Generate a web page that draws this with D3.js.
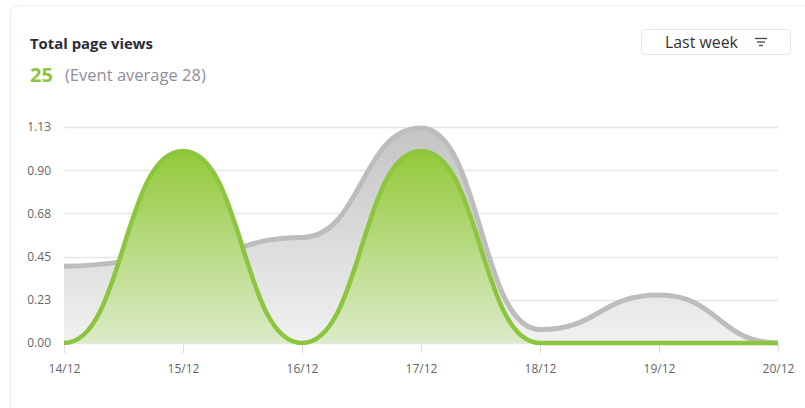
<!DOCTYPE html>
<html>
<head>
<meta charset="utf-8">
<script src="https://cdnjs.cloudflare.com/ajax/libs/d3/7.8.5/d3.min.js"></script>
<style>
  body { margin: 0; background: #fff; }
  svg { display: block; font-family: "Open Sans", "Noto Sans", sans-serif; }
</style>
</head>
<body>
<svg id="chart" width="805" height="408"></svg>
<script>
// data
var days = ['14/12', '15/12', '16/12', '17/12', '18/12', '19/12', '20/12'];
var pageViews = [0, 1, 0, 1, 0, 0, 0];
var eventAverage = [0.4, 0.45, 0.55, 1.12, 0.07, 0.25, 0];
var yTicks = [0, 0.225, 0.45, 0.675, 0.9, 1.125];

var svg = d3.select('#chart');
var defs = svg.append('defs');

var margin = {left: 64, right: 27, top: 127, bottom: 65};
var width = 805 - margin.left - margin.right;
var height = 408 - margin.top - margin.bottom;

// scale a label's font so it spans the wanted width
function fit(sel, size, w) {
	sel.style('font-size', size + 'px');
	var len = sel.node().getComputedTextLength();
	sel.style('font-size', (size * w / len) + 'px');
	return sel;
}

// card
svg.append('rect')
	.attr('x', 10.5).attr('y', 5.5)
	.attr('width', 820).attr('height', 430)
	.attr('rx', 8)
	.style('fill', '#fff')
	.style('stroke', '#e9edf2');

fit(svg.append('text')
	.attr('x', 30).attr('y', 49)
	.style('font-weight', 700)
	.style('fill', '#2b2b38')
	.text('Total page views'), 14.5, 123);

fit(svg.append('text')
	.attr('x', 30).attr('y', 82)
	.style('font-weight', 700)
	.style('fill', '#8dc63f')
	.text('25'), 19, 23);

fit(svg.append('text')
	.attr('x', 65).attr('y', 81)
	.style('fill', '#8e8e9c')
	.text('(Event average 28)'), 14, 141);

// dropdown button
svg.append('rect')
	.attr('x', 641.5).attr('y', 29.5)
	.attr('width', 149).attr('height', 25)
	.attr('rx', 4)
	.style('fill', '#fff')
	.style('stroke', '#e2e7ee');

fit(svg.append('text')
	.attr('x', 665).attr('y', 48)
	.style('fill', '#333')
	.text('Last week'), 14.5, 73);

var icon = svg.append('g').attr('transform', 'translate(755,38)');
[[0, 12], [2, 8], [4, 4]].forEach(function(d, i) {
	icon.append('line')
		.attr('x1', d[0]).attr('x2', d[0] + d[1])
		.attr('y1', i * 3.5 + 0.5).attr('y2', i * 3.5 + 0.5)
		.style('stroke', '#444').style('stroke-width', 1.3);
});

var x = d3.scalePoint().domain(days).range([0, width]);
var y = d3.scaleLinear().domain([0, 1.125]).range([height, 0]);

var g = svg.append('g')
	.attr('transform', 'translate(' + margin.left + ',' + margin.top + ')');

// grid
g.selectAll('.grid')
	.data(yTicks)
	.enter()
	.append('line')
	.attr('x1', 0).attr('x2', width)
	.attr('y1', function(d) { return Math.round(y(d)) + 0.5; })
	.attr('y2', function(d) { return Math.round(y(d)) + 0.5; })
	.style('stroke', '#e6e6e6').style('stroke-width', 1.5);

// gradients
var gg = defs.append('linearGradient').attr('id', 'greyFill')
	.attr('x1', 0).attr('y1', 0).attr('x2', 0).attr('y2', 1);
gg.append('stop').attr('offset', '0%').style('stop-color', '#c4c4c4');
gg.append('stop').attr('offset', '100%').style('stop-color', '#f1f1f1');

var gr = defs.append('linearGradient').attr('id', 'greenFill')
	.attr('gradientUnits', 'userSpaceOnUse')
	.attr('x1', 0).attr('y1', y(1)).attr('x2', 0).attr('y2', height);
gr.append('stop').attr('offset', '0%').style('stop-color', '#93c93a');
gr.append('stop').attr('offset', '100%').style('stop-color', '#dcebc9');

var area = d3.area()
	.x(function(d, i) { return x(days[i]); })
	.y0(height)
	.y1(function(d) { return y(d); })
	.curve(d3.curveBumpX);

var line = d3.line()
	.x(function(d, i) { return x(days[i]); })
	.y(function(d) { return y(d); })
	.curve(d3.curveBumpX);

g.append('path').datum(eventAverage)
	.attr('d', area)
	.style('fill', 'url(#greyFill)');

g.append('path').datum(eventAverage)
	.attr('d', line)
	.style('fill', 'none')
	.style('stroke', '#bdbdbd').style('stroke-width', 5);

g.append('path').datum(pageViews)
	.attr('d', area)
	.style('fill', 'url(#greenFill)');

g.append('path').datum(pageViews)
	.attr('d', line)
	.style('fill', 'none')
	.style('stroke', '#8cc63e').style('stroke-width', 4.5);

// axes
var yAxis = g.append('g')
	.call(d3.axisLeft(y).tickValues(yTicks).tickSize(0).tickPadding(13)
		.tickFormat(d3.format('.2f')));
yAxis.select('.domain').remove();
yAxis.selectAll('text')
	.style('font-size', '12px').style('fill', '#666')
	.style('font-family', '"Open Sans", sans-serif');

var xAxis = g.append('g')
	.attr('transform', 'translate(0,' + (height + 2) + ')')
	.call(d3.axisBottom(x).tickSize(8).tickPadding(11));
xAxis.select('.domain').remove();
xAxis.selectAll('line').style('stroke', '#dcdcdc');
xAxis.selectAll('text')
	.style('font-size', '12px').style('fill', '#666')
	.style('font-family', '"Open Sans", sans-serif');
</script>
</body>
</html>
